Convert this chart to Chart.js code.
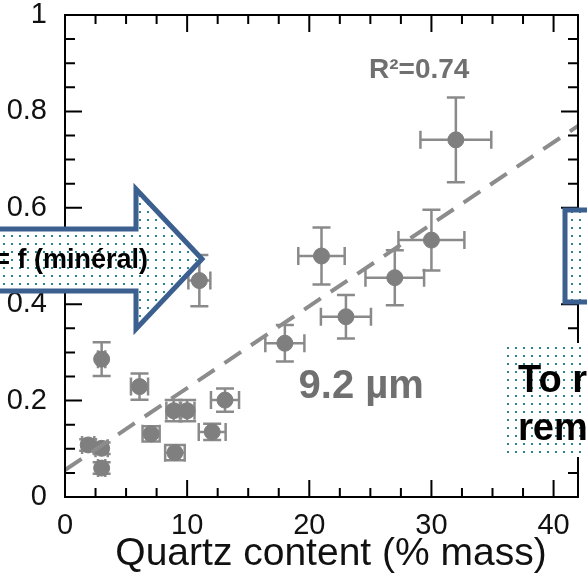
<!DOCTYPE html>
<html>
<head>
<meta charset="utf-8">
<script src="https://cdn.jsdelivr.net/npm/chart.js@4.4.0/dist/chart.umd.min.js"></script>
<style>
html,body{margin:0;padding:0;background:#fff;overflow:hidden}
</style>
</head>
<body>
<canvas id="myChart" width="587" height="576"></canvas>
<script>
// quartz content (% mass) vs y value, with error bars
var quartz=[1.9,3.0,3.0,3.0,6.1,7.05,9.0,8.9,10.0,11.0,12.05,13.1,18.0,21.0,23.0,27.0,30.0,32.0]
var yValues=[0.108,0.101,0.060,0.286,0.229,0.131,0.092,0.179,0.179,0.449,0.135,0.201,0.319,0.500,0.374,0.455,0.533,0.741]
var xErr=[0.5,0.5,0.3,0.3,0.7,0.7,0.8,0.6,0.6,0.9,1.1,1.15,1.6,1.9,2.05,2.4,2.7,2.9]
var yErr=[0.012,0.012,0.012,0.035,0.027,0.016,0.016,0.022,0.022,0.053,0.017,0.024,0.038,0.059,0.045,0.057,0.063,0.088]

// dashed regression line end points
var fitX=[0,42]
var fitY=[0.056,0.77]

var xTicks=[0,10,20,30,40]
var yTicks=[0,0.2,0.4,0.6,0.8,1]
var xTitle='Quartz content (% mass)'

var FONT="'Liberation Sans', Arial, sans-serif"
var GREY="#7f7f7f"

var points=quartz.map(function(x,i){return {x:x,y:yValues[i]}})
var fitLine=fitX.map(function(x,i){return {x:x,y:fitY[i]}})

// little dotted fill like the slide shapes
var pc=document.createElement('canvas')
pc.width=8;pc.height=8
var pctx=pc.getContext('2d')
pctx.fillStyle='#fff';pctx.fillRect(0,0,8,8)
pctx.fillStyle='#2a8595';pctx.fillRect(3,3,2,2)

var extras={
    id:'extras',
    beforeDatasetsDraw:function(chart){
        var ctx=chart.ctx, xs=chart.scales.x, ys=chart.scales.y
        ctx.save()
        ctx.strokeStyle='#8a8a8a'
        ctx.lineWidth=2.5
        var cap=9
        for(var i=0;i<quartz.length;i++){
            var px=xs.getPixelForValue(quartz[i]), py=ys.getPixelForValue(yValues[i])
            var x1=xs.getPixelForValue(quartz[i]-xErr[i]), x2=xs.getPixelForValue(quartz[i]+xErr[i])
            var y1=ys.getPixelForValue(yValues[i]-yErr[i]), y2=ys.getPixelForValue(yValues[i]+yErr[i])
            ctx.beginPath()
            ctx.moveTo(x1,py);ctx.lineTo(x2,py)
            ctx.moveTo(x1,py-cap);ctx.lineTo(x1,py+cap)
            ctx.moveTo(x2,py-cap);ctx.lineTo(x2,py+cap)
            ctx.moveTo(px,y1);ctx.lineTo(px,y2)
            ctx.moveTo(px-cap,y1);ctx.lineTo(px+cap,y1)
            ctx.moveTo(px-cap,y2);ctx.lineTo(px+cap,y2)
            ctx.stroke()
        }
        ctx.restore()
    },
    afterDraw:function(chart){
        var ctx=chart.ctx, xs=chart.scales.x, ys=chart.scales.y, a=chart.chartArea
        ctx.save()
        // frame + inward ticks on all sides
        ctx.strokeStyle='#000'
        ctx.lineWidth=2
        ctx.strokeRect(a.left,a.top,a.right-a.left,a.bottom-a.top)
        ctx.beginPath()
        for(var v=0;v<=42.001;v+=2.5){
            var px=xs.getPixelForValue(v)
            var len=(Math.abs(v%10)<0.001)?17:9
            ctx.moveTo(px,a.bottom);ctx.lineTo(px,a.bottom-len)
            ctx.moveTo(px,a.top);ctx.lineTo(px,a.top+len)
        }
        for(var k=0;k<=20;k++){
            var val=k*0.05
            var py=ys.getPixelForValue(val)
            var l2=(k%4===0)?17:10
            ctx.moveTo(a.left,py);ctx.lineTo(a.left+l2,py)
            ctx.moveTo(a.right,py);ctx.lineTo(a.right-l2,py)
        }
        ctx.stroke()

        // axis title (sits a bit right of the plot centre in the original)
        ctx.fillStyle='#111'
        ctx.textAlign='center'
        ctx.textBaseline='alphabetic'
        ctx.font='39px '+FONT
        ctx.fillText(xTitle,331,565)

        // texts inside the plot
        ctx.fillStyle='#707070'
        ctx.textBaseline='middle'
        ctx.font='bold 28px '+FONT
        ctx.fillText('R\u00b2=0.74',xs.getPixelForValue(29.0),ys.getPixelForValue(0.886))
        ctx.font='bold 40px '+FONT
        ctx.fillText('9.2 \u00b5m',xs.getPixelForValue(24.25),ys.getPixelForValue(0.229))

        // slide overlays on top of the chart
        var pat=ctx.createPattern(pc,'repeat')
        ctx.fillStyle=pat
        ctx.strokeStyle='#3b5f8f'
        ctx.lineWidth=5
        ctx.lineJoin='miter'
        ctx.beginPath()
        ctx.moveTo(-10,229);ctx.lineTo(136,229);ctx.lineTo(136,189)
        ctx.lineTo(202,259);ctx.lineTo(136,329);ctx.lineTo(136,291)
        ctx.lineTo(-10,291);ctx.closePath()
        ctx.fill();ctx.stroke()

        ctx.beginPath()
        ctx.rect(565,210,60,92)
        ctx.fill();ctx.stroke()

        ctx.fillRect(502,343,100,114)

        ctx.fillStyle='#000'
        ctx.textBaseline='alphabetic'
        ctx.textAlign='right'
        ctx.font='bold 27px '+FONT
        ctx.fillText('= f (min\u00e9ral)',148,268)
        ctx.textAlign='left'
        ctx.font='bold 38px '+FONT
        ctx.fillText('To r',518,392)
        ctx.fillText('rem',518,440)
        ctx.restore()
    }
}

chart=new Chart("myChart", {
    type: "scatter",
    data: {
        datasets: [{
            label:'fit',
            type:'line',
            data: fitLine,
            borderColor: "#8c8c8c",
            borderWidth: 4,
            borderDash: [20,12],
            pointRadius: 0,
            fill:false
        },{
            label:'samples',
            data: points,
            backgroundColor: GREY,
            borderColor: GREY,
            pointRadius: 8,
            pointHoverRadius: 8
        }]
    },
    options: {
        responsive:false,
        animation:false,
        devicePixelRatio:1,
        layout:{padding:{top:15,right:5,left:0,bottom:0}},
        plugins:{legend:{display:false},tooltip:{enabled:false}},
        scales:{
            x:{
                type:'linear',
                min:0,max:42,
                grid:{display:false},
                border:{display:false},
                afterBuildTicks:function(s){s.ticks=xTicks.map(function(v){return {value:v}})},
                afterFit:function(s){s.height=79},
                ticks:{color:'#111',padding:4,maxRotation:0,font:{size:29,family:FONT}}
            },
            y:{
                min:0,max:1,
                grid:{display:false},
                border:{display:false},
                afterBuildTicks:function(s){s.ticks=yTicks.map(function(v){return {value:v}})},
                afterFit:function(s){s.width=65},
                ticks:{color:'#111',padding:10,font:{size:29,family:FONT,lineHeight:0.3},
                    callback:function(v){return String(Math.round(v*10)/10)}}
            }
        }
    },
    plugins:[extras]
});
</script>
</body>
</html>
